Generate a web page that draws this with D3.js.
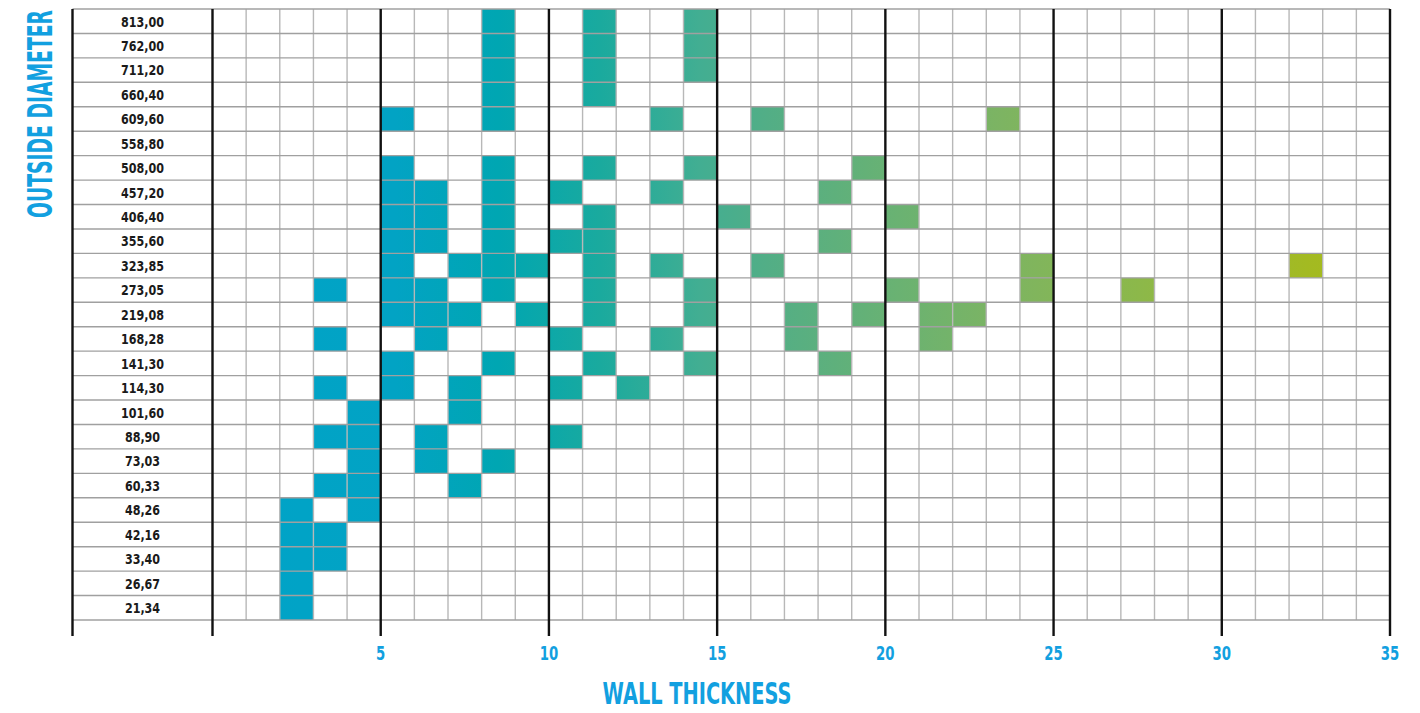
<!DOCTYPE html>
<html>
<head>
<meta charset="utf-8">
<script src="https://cdn.jsdelivr.net/npm/d3@7"></script>
<style>
  body { margin: 0; background: #fff; }
  svg { display: block; }
</style>
</head>
<body>
<div id="chart"></div>
<script>
// outside diameters, top row first
const diameters = ["813,00", "762,00", "711,20", "660,40", "609,60", "558,80", "508,00",
    "457,20", "406,40", "355,60", "323,85", "273,05", "219,08", "168,28", "141,30",
    "114,30", "101,60", "88,90", "73,03", "60,33", "48,26", "42,16", "33,40", "26,67", "21,34"];

// filled cells per row: the wall thickness where each filled cell starts
const filled = [
    [8, 11, 14],
    [8, 11, 14],
    [8, 11, 14],
    [8, 11],
    [5, 8, 13, 16, 23],
    [],
    [5, 8, 11, 14, 19],
    [5, 6, 8, 10, 13, 18],
    [5, 6, 8, 11, 15, 20],
    [5, 6, 8, 10, 11, 18],
    [5, 7, 8, 9, 11, 13, 16, 24, 32],
    [3, 5, 6, 8, 11, 14, 20, 24, 27],
    [5, 6, 7, 9, 11, 14, 17, 19, 21, 22],
    [3, 6, 10, 13, 17, 21],
    [5, 8, 11, 14, 18],
    [3, 5, 7, 10, 12],
    [4, 7],
    [3, 4, 6, 10],
    [4, 6, 8],
    [3, 4, 7],
    [2, 4],
    [2, 3],
    [2, 3],
    [2],
    [2]
];

const thicknessTicks = [5, 10, 15, 20, 25, 30, 35];
const majorLines = [0, 5, 10, 15, 20, 25, 30, 35];

const W = 1420, H = 713;
const labelLeft = 72.5, gridTop = 9, gridBottom = 620, lineBottom = 636;
const blue = "#12a0e0";
const narrow = "'Liberation Sans Narrow', 'DejaVu Sans Condensed', sans-serif";

const svg = d3.select("#chart").append("svg")
    .attr("width", W)
    .attr("height", H);

const x = d3.scaleLinear().domain([0, 35]).range([212.5, 1390]);
const y = d3.scaleBand().domain(diameters).range([gridTop, gridBottom]);

// squeeze text horizontally so it looks like the condensed face of the original
function squeeze(sel, sample, target) {
    const probe = svg.append("text")
        .attr("font-family", sel.attr("font-family"))
        .attr("font-weight", sel.attr("font-weight"))
        .attr("font-size", sel.attr("font-size"))
        .text(sample);
    const w = probe.node().getComputedTextLength();
    probe.remove();
    return Math.min(1, target / w);
}

// colour runs from blue on the left to green on the right
const grad = svg.append("defs").append("linearGradient")
    .attr("id", "cellGrad")
    .attr("gradientUnits", "userSpaceOnUse")
    .attr("x1", x(0)).attr("x2", x(35))
    .attr("y1", 0).attr("y2", 0);
const stops = [
    [0, "#00a3c8"], [0.154, "#02a3c4"], [0.243, "#00a6b2"], [0.329, "#1aaa9e"],
    [0.414, "#42ae92"], [0.471, "#52ae86"], [0.583, "#6ab272"], [0.671, "#7db462"],
    [0.786, "#8cb84a"], [0.929, "#a3ba22"], [1, "#a8bb18"]
];
grad.selectAll("stop").data(stops).join("stop")
    .attr("offset", d => d[0])
    .attr("stop-color", d => d[1]);

// filled cells
const cells = [];
filled.forEach((row, i) => row.forEach(t => cells.push({d: diameters[i], t: t})));

svg.append("g").selectAll("rect")
    .data(cells)
    .join("rect")
    .attr("x", d => x(d.t))
    .attr("y", d => y(d.d))
    .attr("width", d => x(d.t + 1) - x(d.t))
    .attr("height", y.bandwidth())
    .attr("fill", "url(#cellGrad)");

// minor vertical grid lines
svg.append("g").selectAll("line")
    .data(d3.range(1, 35).filter(v => v % 5 !== 0))
    .join("line")
    .attr("x1", d => x(d)).attr("x2", d => x(d))
    .attr("y1", gridTop).attr("y2", gridBottom)
    .attr("stroke", "#b8b8b8")
    .attr("stroke-width", 1.4);

// horizontal grid lines
svg.append("g").selectAll("line")
    .data(diameters.map(d => y(d)).concat([gridBottom]))
    .join("line")
    .attr("x1", labelLeft).attr("x2", x(35))
    .attr("y1", d => d).attr("y2", d => d)
    .attr("stroke", "#a0a0a0")
    .attr("stroke-width", 1.4);

// black lines every 5 mm plus the left border
svg.append("g").selectAll("line")
    .data([labelLeft].concat(majorLines.map(v => x(v))))
    .join("line")
    .attr("x1", d => d).attr("x2", d => d)
    .attr("y1", gridTop).attr("y2", lineBottom)
    .attr("stroke", "#111")
    .attr("stroke-width", 2.4);

// diameter labels
const rowLabels = svg.append("g")
    .attr("font-family", narrow)
    .attr("font-weight", "bold")
    .attr("font-size", "14.5px");
const sxRow = squeeze(rowLabels, "813,00", 43);
rowLabels.selectAll("text")
    .data(diameters)
    .join("text")
    .attr("transform", d => `translate(${(labelLeft + x(0)) / 2},${y(d) + y.bandwidth() / 2 + 5.3}) scale(${sxRow},1)`)
    .attr("text-anchor", "middle")
    .attr("fill", "#1a1a1a")
    .text(d => d);

// thickness tick labels
const tickLabels = svg.append("g")
    .attr("font-family", narrow)
    .attr("font-weight", "bold")
    .attr("font-size", "19.5px");
const sxTick = squeeze(tickLabels, "10", 18.5);
tickLabels.selectAll("text")
    .data(thicknessTicks)
    .join("text")
    .attr("transform", d => `translate(${x(d)},660) scale(${sxTick},1)`)
    .attr("text-anchor", "middle")
    .attr("fill", blue)
    .text(d => d);

// axis titles
const xTitle = svg.append("text")
    .attr("text-anchor", "middle")
    .attr("font-family", narrow)
    .attr("font-weight", "bold")
    .attr("font-size", "30px")
    .attr("fill", blue);
const sxX = squeeze(xTitle, "WALL THICKNESS", 189);
xTitle.attr("transform", `translate(697,704) scale(${sxX},1)`)
    .text("WALL THICKNESS");

const yTitle = svg.append("text")
    .attr("text-anchor", "middle")
    .attr("font-family", narrow)
    .attr("font-weight", "bold")
    .attr("font-size", "33px")
    .attr("fill", blue);
const sxY = squeeze(yTitle, "OUTSIDE DIAMETER", 208);
yTitle.attr("transform", `translate(52,114) rotate(-90) scale(${sxY},1)`)
    .text("OUTSIDE DIAMETER");
</script>
</body>
</html>
